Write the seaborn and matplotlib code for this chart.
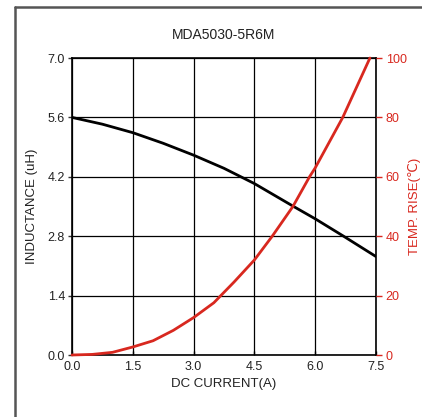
import matplotlib
matplotlib.use("Agg")
import matplotlib.pyplot as plt
from matplotlib.lines import Line2D
import pandas as pd
import seaborn as sns

# data
current_ind = [0, 0.75, 1.5, 2.25, 3.0, 3.75, 4.5, 5.45, 6.0, 6.7, 7.5]
inductance = [5.6, 5.44, 5.24, 4.99, 4.71, 4.40, 4.04, 3.51, 3.21, 2.80, 2.32]

current_temp = [0, 0.5, 1.0, 1.5, 2.0, 2.5, 3.0, 3.5, 4.0, 4.5, 4.94, 5.45,
                5.86, 6.0, 6.68, 7.35]
temp_rise = [0, 0.2, 0.9, 2.7, 4.8, 8.3, 12.6, 17.6, 24.6, 32.0, 40, 50,
             60, 63, 80, 100]

x_ticks = [0.0, 1.5, 3.0, 4.5, 6.0, 7.5]
left_ticks = [0.0, 1.4, 2.8, 4.2, 5.6, 7.0]
right_ticks = [0, 20, 40, 60, 80, 100]

RED = "#d8281f"
TXT = "#222222"

sns.set_style("white")
plt.rcParams["font.family"] = ["Liberation Sans", "DejaVu Sans"]

fig = plt.figure(figsize=(4.22, 4.17), dpi=100)
ax = fig.add_axes([72 / 422, 62 / 417, 304 / 422, 297 / 417])

df_ind = pd.DataFrame({"current": current_ind, "L": inductance})
df_temp = pd.DataFrame({"current": current_temp, "T": temp_rise})

sns.lineplot(data=df_ind, x="current", y="L", ax=ax, color="black", lw=2.0)
ax.set_xlim(0, 7.5)
ax.set_ylim(0, 7.0)
ax.set_xticks(x_ticks)
ax.set_yticks(left_ticks)
ax.set_xticklabels([f"{v:.1f}" for v in x_ticks])
ax.set_yticklabels([f"{v:.1f}" for v in left_ticks])
ax.grid(True, color="black", lw=0.9)
ax.tick_params(axis="y", direction="out", length=3, width=1, color="#333333",
               labelsize=9, labelcolor=TXT, pad=2)
ax.tick_params(axis="x", direction="in", length=3, width=1, color="black",
               labelsize=9, labelcolor=TXT, pad=4, bottom=True)
ax.set_xlabel("DC CURRENT(A)", fontsize=9.5, color=TXT, labelpad=4)
ax.set_ylabel("INDUCTANCE (uH)", fontsize=9.5, color=TXT, labelpad=7)
ax.set_title("MDA5030-5R6M", fontsize=10, color=TXT, pad=14)
for s in ax.spines.values():
    s.set_color("black")
    s.set_linewidth(1.2)

ax2 = ax.twinx()
sns.lineplot(data=df_temp, x="current", y="T", ax=ax2, color=RED, lw=2.0,
             clip_on=False)
ax2.set_ylim(0, 100)
ax2.set_yticks(right_ticks)
ax2.set_yticklabels([str(v) for v in right_ticks])
ax2.tick_params(axis="y", direction="out", length=4, width=1, color=RED,
                labelsize=9, labelcolor=RED, pad=3)
ax2.set_ylabel("TEMP. RISE(\u2103)", fontsize=9.5, color=RED, labelpad=1)
ax2.grid(False)
for s in ax2.spines.values():
    s.set_visible(False)

# outer frame around the chart (left and top edges visible)
fig.add_artist(Line2D([15 / 422, 15 / 422], [0, 1 - 7 / 417],
                      transform=fig.transFigure, color="#555555", lw=1.8))
fig.add_artist(Line2D([15 / 422, 1], [1 - 7 / 417, 1 - 7 / 417],
                      transform=fig.transFigure, color="#555555", lw=1.8))

fig.savefig("out.png", dpi=100)
